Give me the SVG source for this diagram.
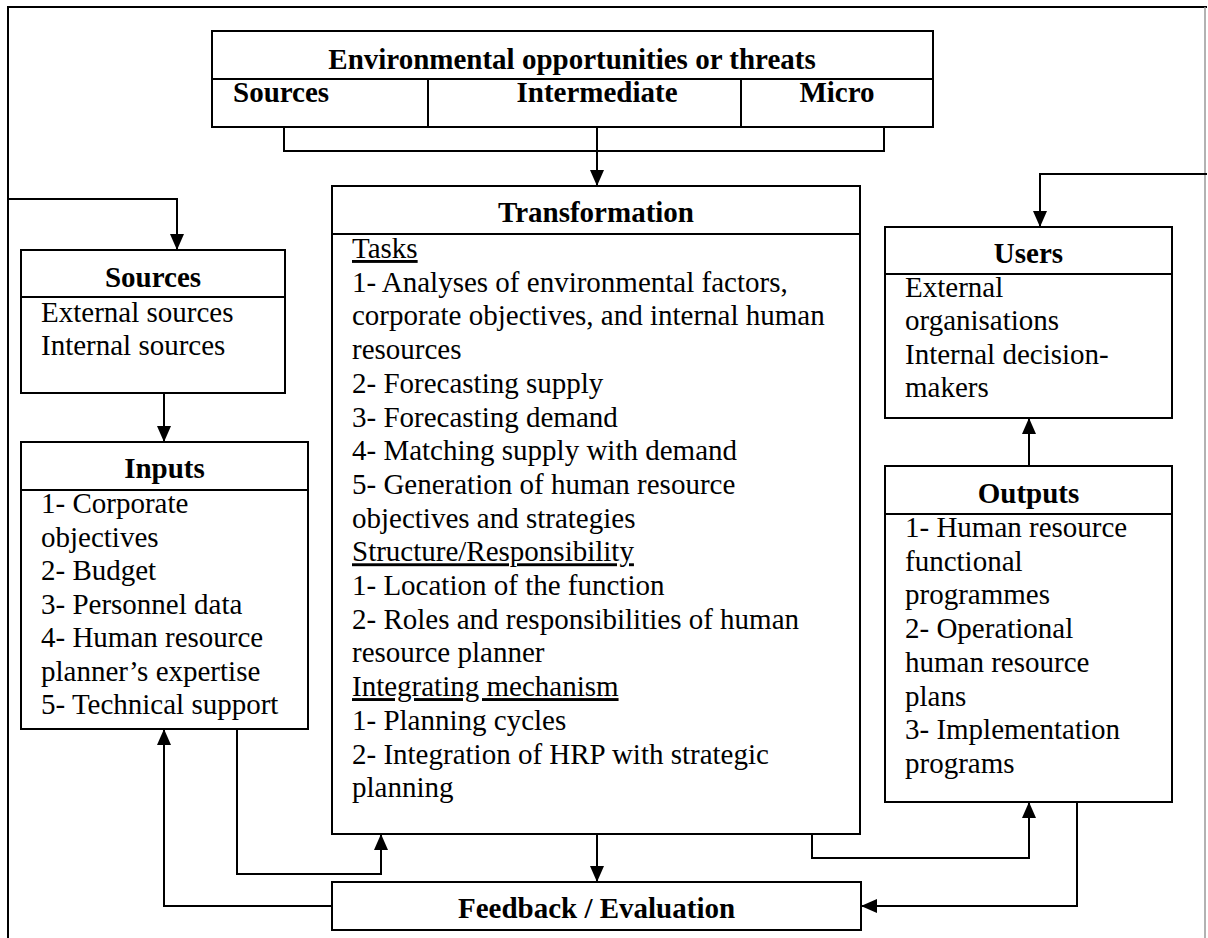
<svg xmlns="http://www.w3.org/2000/svg" width="1208" height="938" viewBox="0 0 1208 938">
<style>
  .box { fill: #ffffff; stroke: #000000; stroke-width: 2; }
  .div { stroke: #000000; stroke-width: 2; fill: none; }
  .t { font-family: "Liberation Serif", "Times New Roman", serif; font-size: 29px; fill: #000000; }
  .h { font-family: "Liberation Serif", "Times New Roman", serif; font-size: 29px; font-weight: bold; fill: #000000; text-anchor: middle; }
  .hs { font-family: "Liberation Serif", "Times New Roman", serif; font-size: 29px; font-weight: bold; fill: #000000; }
  .u { text-decoration: underline; }
  .c { stroke: #000000; stroke-width: 2; fill: none; }
  .ca { stroke: #000000; stroke-width: 2; fill: none; marker-end: url(#arr); }
</style>
<defs>
  <marker id="arr" markerUnits="userSpaceOnUse" viewBox="0 0 16 14" refX="16" refY="7" markerWidth="16" markerHeight="14" orient="auto">
    <path d="M0,0 L16,7 L0,14 Z" fill="#000000"/>
  </marker>
</defs>
<rect width="1208" height="938" fill="#ffffff"/>

<g id="frame">
  <line x1="8" y1="7" x2="1207" y2="7" class="c"/>
  <line x1="8" y1="6" x2="8" y2="938" class="c"/>
  <line x1="1205" y1="7" x2="1205" y2="938" stroke="#999999" stroke-width="1.5"/>
</g>

<g id="connectors">
  <polyline class="c" points="284,127 284,151 884,151 884,127"/>
  <polyline class="ca" points="597,127 597,186"/>
  <polyline class="ca" points="8,199 177,199 177,250"/>
  <polyline class="ca" points="164,393 164,442"/>
  <polyline class="ca" points="237,729 237,874 381,874 381,834"/>
  <polyline class="ca" points="332,906 164,906 164,729"/>
  <polyline class="ca" points="597,834 597,882"/>
  <polyline class="ca" points="812,834 812,858 1029,858 1029,802"/>
  <polyline class="ca" points="1077,802 1077,906 861,906"/>
  <polyline class="ca" points="1029,466 1029,418"/>
  <polyline class="ca" points="1207,174 1040,174 1040,227"/>
</g>

<g id="environment">
  <rect class="box" x="212" y="31" width="721" height="96"/>
  <line class="div" x1="212" y1="79" x2="933" y2="79"/>
  <line class="div" x1="428" y1="79" x2="428" y2="127"/>
  <line class="div" x1="741" y1="79" x2="741" y2="127"/>
  <text class="h" x="572" y="69">Environmental opportunities or threats</text>
  <text class="hs" x="233" y="102">Sources</text>
  <text class="h" x="597" y="102">Intermediate</text>
  <text class="h" x="837" y="102">Micro</text>
</g>

<g id="sources">
  <rect class="box" x="21" y="250" width="264" height="143"/>
  <line class="div" x1="21" y1="297" x2="285" y2="297"/>
  <text class="h" x="153" y="287">Sources</text>
  <text class="t" x="41" y="322">External sources</text>
  <text class="t" x="41" y="355">Internal sources</text>
</g>

<g id="inputs">
  <rect class="box" x="21" y="442" width="287" height="287"/>
  <line class="div" x1="21" y1="490" x2="308" y2="490"/>
  <text class="h" x="164.5" y="478">Inputs</text>
  <text class="t" x="41" y="513">1- Corporate</text>
  <text class="t" x="41" y="546.5">objectives</text>
  <text class="t" x="41" y="580">2- Budget</text>
  <text class="t" x="41" y="613.5">3- Personnel data</text>
  <text class="t" x="41" y="647">4- Human resource</text>
  <text class="t" x="41" y="680.5">planner’s expertise</text>
  <text class="t" x="41" y="714">5- Technical support</text>
</g>

<g id="transformation">
  <rect class="box" x="332" y="186" width="528" height="648"/>
  <line class="div" x1="332" y1="234" x2="860" y2="234"/>
  <text class="h" x="596" y="222">Transformation</text>
  <text class="t u" x="352" y="258">Tasks</text>
  <text class="t" x="352" y="291.7">1- Analyses of environmental factors,</text>
  <text class="t" x="352" y="325.4">corporate objectives, and internal human</text>
  <text class="t" x="352" y="359.1">resources</text>
  <text class="t" x="352" y="392.8">2- Forecasting supply</text>
  <text class="t" x="352" y="426.5">3- Forecasting demand</text>
  <text class="t" x="352" y="460.2">4- Matching supply with demand</text>
  <text class="t" x="352" y="493.9">5- Generation of human resource</text>
  <text class="t" x="352" y="527.6">objectives and strategies</text>
  <text class="t u" x="352" y="561.3">Structure/Responsibility</text>
  <text class="t" x="352" y="595">1- Location of the function</text>
  <text class="t" x="352" y="628.7">2- Roles and responsibilities of human</text>
  <text class="t" x="352" y="662.4">resource planner</text>
  <text class="t u" x="352" y="696.1">Integrating mechanism</text>
  <text class="t" x="352" y="729.8">1- Planning cycles</text>
  <text class="t" x="352" y="763.5">2- Integration of HRP with strategic</text>
  <text class="t" x="352" y="797.2">planning</text>
</g>

<g id="users">
  <rect class="box" x="885" y="227" width="287" height="191"/>
  <line class="div" x1="885" y1="274" x2="1172" y2="274"/>
  <text class="h" x="1028.5" y="263">Users</text>
  <text class="t" x="905" y="297">External</text>
  <text class="t" x="905" y="330.3">organisations</text>
  <text class="t" x="905" y="363.6">Internal decision-</text>
  <text class="t" x="905" y="397">makers</text>
</g>

<g id="outputs">
  <rect class="box" x="885" y="466" width="287" height="336"/>
  <line class="div" x1="885" y1="514" x2="1172" y2="514"/>
  <text class="h" x="1028.5" y="503">Outputs</text>
  <text class="t" x="905" y="537">1- Human resource</text>
  <text class="t" x="905" y="570.7">functional</text>
  <text class="t" x="905" y="604.4">programmes</text>
  <text class="t" x="905" y="638.1">2- Operational</text>
  <text class="t" x="905" y="671.8">human resource</text>
  <text class="t" x="905" y="705.5">plans</text>
  <text class="t" x="905" y="739.2">3- Implementation</text>
  <text class="t" x="905" y="772.9">programs</text>
</g>

<g id="feedback">
  <rect class="box" x="332" y="882" width="529" height="48"/>
  <text class="h" x="596.5" y="918">Feedback / Evaluation</text>
</g>
</svg>
